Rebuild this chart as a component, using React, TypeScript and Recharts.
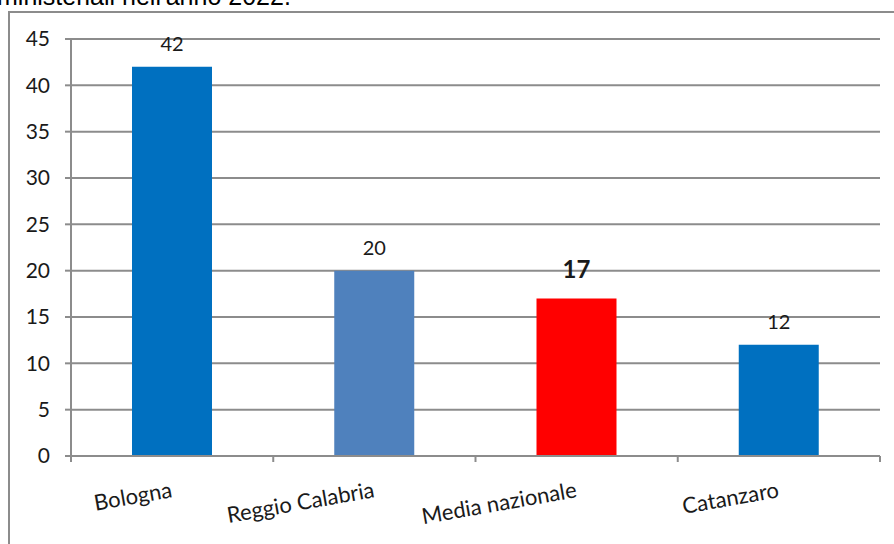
import React from "react";
import { BarChart, Bar, XAxis, YAxis, CartesianGrid, Cell, LabelList } from "recharts";

const categories = ["Bologna", "Reggio Calabria", "Media nazionale", "Catanzaro"];
const values = [42, 20, 17, 12];
const barColors = ["#0070C0", "#4F81BD", "#FF0000", "#0070C0"];
const yTicks = [0, 5, 10, 15, 20, 25, 30, 35, 40, 45];

const data = categories.map((name, i) => ({ name, value: values[i] }));

const FONT = "Lato, 'Open Sans', sans-serif";
const GRAY = "#8c8c8c";

const CategoryTick = (props: any) => {
  const { x, y, payload, index, visibleTicksCount } = props;
  const half = payload.offset || 0;
  const last = index === visibleTicksCount - 1;
  return (
    <g>
      <line x1={x - half} x2={x - half} y1={y} y2={y + 6} stroke={GRAY} strokeWidth={2} />
      {last && <line x1={x + half} x2={x + half} y1={y} y2={y + 6} stroke={GRAY} strokeWidth={2} />}
      <text
        x={x + 1}
        y={y + 41}
        textAnchor="end"
        transform={`rotate(-10, ${x + 1}, ${y + 41})`}
        fontFamily={FONT}
        fontSize={22}
        fill="#1a1a1a"
      >
        {payload.value}
      </text>
    </g>
  );
};

const ValueLabel = (props: any) => {
  const { x, y, width, value, index } = props;
  const bold = categories[index] === "Media nazionale";
  return (
    <text
      x={x + width / 2}
      y={y - (bold ? 20 : 16)}
      textAnchor="middle"
      fontFamily={FONT}
      fontSize={bold ? 24 : 20}
      fontWeight={bold ? 700 : 400}
      fill="#1a1a1a"
    >
      {value}
    </text>
  );
};

export default function App() {
  return (
    <div
      style={{
        position: "absolute",
        left: 0,
        top: 0,
        width: 894,
        height: 544,
        overflow: "hidden",
        background: "#fff",
      }}
    >
      <div
        style={{
          position: "absolute",
          left: -3,
          top: -18,
          fontFamily: "'Liberation Sans', Arial, sans-serif",
          fontSize: 25,
          lineHeight: "28px",
          whiteSpace: "nowrap",
          color: "#000",
        }}
      >
        ministeriali nell'anno 2022.
      </div>
      <div
        style={{
          position: "absolute",
          left: 8,
          top: 11,
          width: 900,
          height: 560,
          border: `2px solid ${GRAY}`,
        }}
      />
      <div style={{ position: "absolute", left: 0, top: 0 }}>
        <BarChart
          width={894}
          height={544}
          data={data}
          margin={{ top: 39, right: 14, left: 0, bottom: 0 }}
        >
          <CartesianGrid vertical={false} stroke={GRAY} strokeWidth={2} />
          <XAxis
            dataKey="name"
            height={88}
            axisLine={{ stroke: GRAY, strokeWidth: 2 }}
            tickLine={false}
            tickSize={0}
            tickMargin={0}
            interval={0}
            tick={<CategoryTick />}
          />
          <YAxis
            width={71}
            domain={[0, 45]}
            ticks={yTicks}
            interval={0}
            axisLine={{ stroke: GRAY, strokeWidth: 2 }}
            tickLine={{ stroke: GRAY, strokeWidth: 2 }}
            tickSize={6}
            tickMargin={15}
            tick={{ fontFamily: FONT, fontSize: 21, fill: "#1a1a1a" }}
          />
          <Bar dataKey="value" barSize={80} isAnimationActive={false}>
            {data.map((_, i) => (
              <Cell key={`c-${i}`} fill={barColors[i]} />
            ))}
            <LabelList dataKey="value" content={<ValueLabel />} />
          </Bar>
        </BarChart>
      </div>
    </div>
  );
}
